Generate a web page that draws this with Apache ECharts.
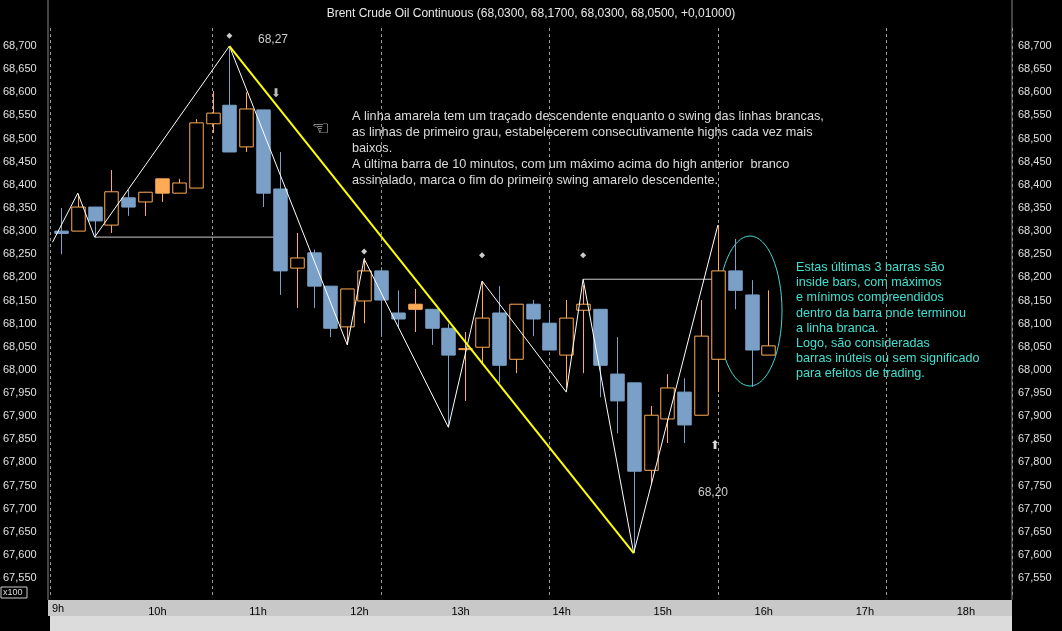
<!DOCTYPE html>
<html><head><meta charset="utf-8">
<script src="https://cdn.jsdelivr.net/npm/echarts@6/dist/echarts.min.js"></script>
<style>html,body{margin:0;background:#000}#c{width:1062px;height:631px}</style>
</head><body><div id="c"></div>
<script>
// bar times in minutes after 9:00
const barTimes = [10,20,30,40,50,60,70,80,90,100,110,120,130,140,150,160,170,180,190,200,210,220,230,240,250,260,270,280,290,300,310,320,330,340,350,360,370,380,390,400,410,420,430];
const opens  = [68.300,68.300,68.352,68.313,68.372,68.363,68.382,68.382,68.393,68.532,68.572,68.482,68.562,68.391,68.220,68.253,68.181,68.093,68.149,68.214,68.123,68.131,68.131,68.090,68.045,68.049,68.123,68.023,68.142,68.101,68.032,68.129,68.131,67.991,67.972,67.783,67.894,67.952,67.902,68.023,68.214,68.162,68.032];
const closes = [68.295,68.352,68.322,68.385,68.352,68.384,68.413,68.404,68.534,68.555,68.471,68.564,68.382,68.214,68.242,68.181,68.090,68.175,68.214,68.151,68.110,68.142,68.090,68.032,68.046,68.112,68.010,68.142,68.110,68.043,68.112,68.142,68.010,67.933,67.781,67.902,67.961,67.881,68.073,68.214,68.172,68.043,68.052];
const highs  = [68.350,68.380,68.352,68.432,68.389,68.385,68.413,68.413,68.542,68.603,68.700,68.600,68.562,68.471,68.296,68.260,68.181,68.175,68.242,68.222,68.172,68.175,68.131,68.100,68.082,68.192,68.181,68.142,68.151,68.125,68.151,68.183,68.131,68.071,67.972,67.922,67.991,67.982,68.151,68.313,68.283,68.194,68.172];
const lows   = [68.250,68.300,68.285,68.296,68.333,68.333,68.363,68.382,68.393,68.512,68.471,68.471,68.352,68.162,68.134,68.134,68.071,68.054,68.101,68.071,68.090,68.082,68.054,67.876,67.933,68.015,67.972,67.993,68.073,68.043,67.961,67.993,67.941,67.863,67.604,67.755,67.842,67.842,67.902,67.952,68.131,67.963,68.032];
const filledUp = [6,21];
const swingTimes = [5,20,30,110,180,190,240,260,310,320,350,400];
const swingVals  = [68.276,68.382,68.287,68.700,68.054,68.240,67.876,68.192,67.952,68.196,67.604,68.313];
const yellowTimes = [110,350];
const yellowVals  = [68.700,67.604];
const hLine1 = [[30,68.287],[140,68.287]];
const hLine2 = [[320,68.196],[400,68.196]];
const markTimes = [110,190,260,320];
const markVals  = [68.722,68.256,68.248,68.248];
const yTicks = [67.55,67.60,67.65,67.70,67.75,67.80,67.85,67.90,67.95,68.00,68.05,68.10,68.15,68.20,68.25,68.30,68.35,68.40,68.45,68.50,68.55,68.60,68.65,68.70];
const hourTicks = [60,120,180,240,300,360,420,480,540];

const BLUE='#7aa0c8', ORANGE='#ffaa55';
const candles = barTimes.map((t,i)=>[t,opens[i],closes[i],highs[i],lows[i],filledUp.includes(i)?1:0]);
const fmtY = v => v.toFixed(3).replace('.',',');
const chart = echarts.init(document.getElementById('c'));
const yBase = {type:'value',min:67.507,max:68.739,
  axisLine:{show:false},axisTick:{show:false},splitLine:{show:false},
  axisLabel:{customValues:yTicks,formatter:fmtY,color:'#e0e0e0',fontSize:11,fontFamily:'Arial'}};
chart.setOption({
  backgroundColor:'#000',animation:false,
  grid:{left:48,right:50,top:28,bottom:33},
  title:{text:'Brent Crude Oil Continuous (68,0300, 68,1700, 68,0300, 68,0500, +0,01000)',left:'center',top:3,
    textStyle:{color:'#e8e8e8',fontSize:12,fontWeight:'normal',fontFamily:'Arial'}},
  xAxis:{type:'value',min:3.5,max:574.6,
    axisLine:{show:false},axisTick:{show:false},
    splitLine:{show:true,lineStyle:{color:'#999',type:[3,3],width:1}},
    axisLabel:{customValues:hourTicks,formatter:v=>(v/60+9)+'h',color:'#000',fontSize:11,fontFamily:'Arial',align:'left',margin:8,padding:[0,0,0,3]}},
  yAxis:[Object.assign({position:'left'},yBase,{axisLabel:Object.assign({},yBase.axisLabel,{align:'left',margin:47})}),
         Object.assign({position:'right'},yBase,{axisLabel:Object.assign({},yBase.axisLabel,{align:'left',margin:6})})],
  graphic:[
    {type:'rect',shape:{x:48,y:600,width:964,height:16},style:{fill:'#c8c8c8'},z:-1},
    {type:'rect',shape:{x:50,y:616,width:962,height:15},style:{fill:'#dcdcdc'},z:-1},
    {type:'text',x:52,y:603,style:{text:'9h',fill:'#000',fontSize:11,fontFamily:'Arial'}},
    {type:'line',shape:{x1:48,y1:0,x2:48,y2:600},style:{stroke:'#888'}},
    {type:'line',shape:{x1:1012,y1:0,x2:1012,y2:600},style:{stroke:'#888'}},
    {type:'rect',shape:{x:1,y:587,width:26,height:11},style:{fill:'#000',stroke:'#ccc',lineWidth:1}},
    {type:'text',x:3,y:588,style:{text:'x100',fill:'#ddd',fontSize:9,fontFamily:'Arial'}},
    {type:'text',x:258,y:34,style:{text:'68,27',fill:'#ccc',fontSize:12,fontFamily:'Arial'}},
    {type:'text',x:698,y:487,style:{text:'68,20',fill:'#ccc',fontSize:12,fontFamily:'Arial'}},
    {type:'text',x:271,y:88,style:{text:'⬇',fill:'#bbb',fontSize:12}},
    {type:'text',x:710,y:440,style:{text:'⬆',fill:'#ddd',fontSize:12}},
    {type:'text',x:312,y:120,style:{text:'☜',fill:'#eee',fontSize:20,fontFamily:'DejaVu Sans'}},
    {type:'text',x:352,y:109,style:{text:'A linha amarela tem um traçado descendente enquanto o swing das linhas brancas,\nas linhas de primeiro grau, estabelecerem consecutivamente highs cada vez mais\nbaixos.\nA última barra de 10 minutos, com um máximo acima do high anterior  branco\nassinalado, marca o fim do primeiro swing amarelo descendente.',
      fill:'#dcdcdc',fontSize:12.7,lineHeight:15.8,fontFamily:'Arial'}},
    {type:'text',x:796,y:260,style:{text:'Estas últimas 3 barras são\ninside bars, com máximos\ne mínimos compreendidos\ndentro da barra onde terminou\na linha branca.\nLogo, são consideradas\nbarras inúteis ou sem significado\npara efeitos de trading.',
      fill:'#40e0d0',fontSize:12.6,lineHeight:15.2,fontFamily:'Arial'}},
    {type:'ellipse',shape:{cx:750,cy:311,rx:32,ry:75},style:{fill:'none',stroke:'#40d8d0',lineWidth:1}}
  ],
  series:[
    {type:'line',data:hLine1,symbol:'none',lineStyle:{color:'#ccc',width:1},z:2},
    {type:'line',data:hLine2,symbol:'none',lineStyle:{color:'#ccc',width:1},z:2},
    {type:'custom',z:3,data:candles,encode:{x:0,y:[1,2,3,4]},
     renderItem:(params,api)=>{
       const t=api.value(0),o=api.value(1),c=api.value(2),h=api.value(3),l=api.value(4),f=api.value(5);
       const up=c>=o, col=up?ORANGE:BLUE;
       const ph=api.coord([t,h]), pl=api.coord([t,l]), po=api.coord([t,o]), pc=api.coord([t,c]);
       const w=api.size([10,0])[0]*0.8;
       const top=Math.min(po[1],pc[1]), bot=Math.max(po[1],pc[1]);
       const x=Math.round(ph[0])+0.5;
       return {type:'group',children:[
         {type:'line',shape:{x1:x,y1:ph[1],x2:x,y2:top},style:{stroke:col,lineWidth:1}},
         {type:'line',shape:{x1:x,y1:bot,x2:x,y2:pl[1]},style:{stroke:col,lineWidth:1}},
         {type:'rect',shape:{x:x-w/2,y:top,width:w,height:Math.max(bot-top,1)},
          style:{fill:(up&&!f)?'#000':col,stroke:col,lineWidth:1}}
       ]};
     }},
    {type:'line',data:swingTimes.map((t,i)=>[t,swingVals[i]]),symbol:'none',lineStyle:{color:'#fff',width:1},z:4},
    {type:'line',data:yellowTimes.map((t,i)=>[t,yellowVals[i]]),symbol:'none',lineStyle:{color:'#ffff00',width:2},z:5},
    {type:'scatter',data:markTimes.map((t,i)=>[t,markVals[i]]),symbol:'diamond',symbolSize:6,itemStyle:{color:'#fff'},z:6}
  ]
});
</script></body></html>
